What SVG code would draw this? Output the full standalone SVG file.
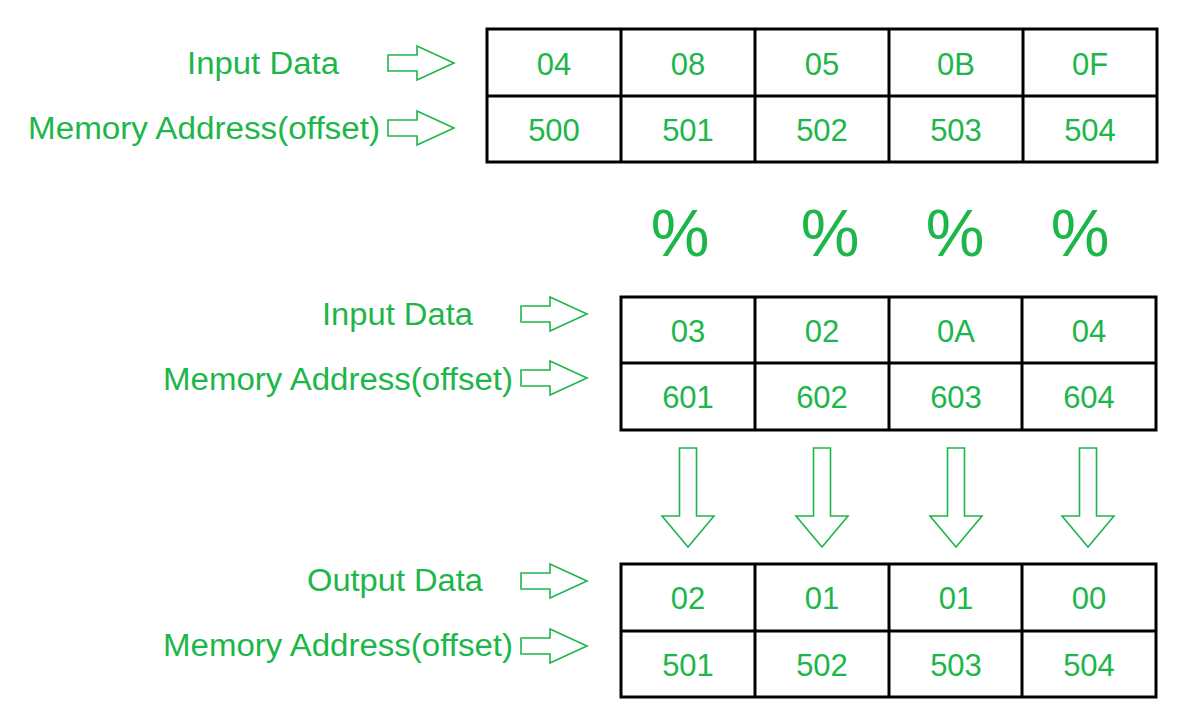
<svg xmlns="http://www.w3.org/2000/svg" width="1198" height="726" viewBox="0 0 1198 726">
<style>
.lbl{font-family:"Liberation Sans",Arial,sans-serif;font-size:31px;fill:#1db64a}
.cell{font-family:"Liberation Sans",Arial,sans-serif;font-size:31px;fill:#1db64a;text-anchor:middle}
.pct{font-family:"Liberation Sans",Arial,sans-serif;font-size:66px;fill:#1db64a;text-anchor:middle}
.grid{fill:none;stroke:#000;stroke-width:3}
.arr{fill:#fff;stroke:#1db64a;stroke-width:1.6;stroke-linejoin:miter}
</style>
<defs>
<path id="ra" d="M-66,-8 L-37,-8 L-37,-17 L0,0 L-37,17 L-37,8 L-66,8 Z"/>
<path id="da" d="M-8.5,-99 L8.5,-99 L8.5,-31 L26,-31 L0,0 L-26,-31 L-8.5,-31 Z"/>
</defs>
<rect width="1198" height="726" fill="#fff"/>

<g id="labels-top">
<text class="lbl" x="187" y="74" textLength="152" lengthAdjust="spacingAndGlyphs">Input Data</text>
<text class="lbl" x="28" y="139" textLength="352" lengthAdjust="spacingAndGlyphs">Memory Address(offset)</text>
</g>
<g id="table-top">
<rect class="grid" x="487" y="29" width="670" height="133"/>
<line class="grid" x1="487" y1="96" x2="1157" y2="96"/>
<line class="grid" x1="621" y1="29" x2="621" y2="162"/>
<line class="grid" x1="755" y1="29" x2="755" y2="162"/>
<line class="grid" x1="889" y1="29" x2="889" y2="162"/>
<line class="grid" x1="1023" y1="29" x2="1023" y2="162"/>
<text class="cell" x="554" y="75">04</text>
<text class="cell" x="688" y="75">08</text>
<text class="cell" x="822" y="75">05</text>
<text class="cell" x="956" y="75">0B</text>
<text class="cell" x="1090" y="75">0F</text>
<text class="cell" x="554" y="141">500</text>
<text class="cell" x="688" y="141">501</text>
<text class="cell" x="822" y="141">502</text>
<text class="cell" x="956" y="141">503</text>
<text class="cell" x="1090" y="141">504</text>
</g>

<g id="percent">
<text class="pct" x="680" y="256">%</text>
<text class="pct" x="830" y="256">%</text>
<text class="pct" x="955" y="256">%</text>
<text class="pct" x="1080" y="256">%</text>
</g>

<g id="labels-mid">
<text class="lbl" x="322" y="325" textLength="151" lengthAdjust="spacingAndGlyphs">Input Data</text>
<text class="lbl" x="163" y="390" textLength="350" lengthAdjust="spacingAndGlyphs">Memory Address(offset)</text>
</g>
<g id="table-mid">
<rect class="grid" x="621" y="297" width="535" height="133"/>
<line class="grid" x1="621" y1="363" x2="1156" y2="363"/>
<line class="grid" x1="755" y1="297" x2="755" y2="430"/>
<line class="grid" x1="889" y1="297" x2="889" y2="430"/>
<line class="grid" x1="1022" y1="297" x2="1022" y2="430"/>
<text class="cell" x="688" y="342">03</text>
<text class="cell" x="822" y="342">02</text>
<text class="cell" x="956" y="342">0A</text>
<text class="cell" x="1089" y="342">04</text>
<text class="cell" x="688" y="408">601</text>
<text class="cell" x="822" y="408">602</text>
<text class="cell" x="956" y="408">603</text>
<text class="cell" x="1089" y="408">604</text>
</g>

<g id="labels-bottom">
<text class="lbl" x="307" y="591" textLength="176" lengthAdjust="spacingAndGlyphs">Output Data</text>
<text class="lbl" x="163" y="656" textLength="350" lengthAdjust="spacingAndGlyphs">Memory Address(offset)</text>
</g>
<g id="table-bottom">
<rect class="grid" x="621" y="564" width="535" height="133"/>
<line class="grid" x1="621" y1="631" x2="1156" y2="631"/>
<line class="grid" x1="755" y1="564" x2="755" y2="697"/>
<line class="grid" x1="889" y1="564" x2="889" y2="697"/>
<line class="grid" x1="1022" y1="564" x2="1022" y2="697"/>
<text class="cell" x="688" y="609">02</text>
<text class="cell" x="822" y="609">01</text>
<text class="cell" x="956" y="609">01</text>
<text class="cell" x="1089" y="609">00</text>
<text class="cell" x="688" y="676">501</text>
<text class="cell" x="822" y="676">502</text>
<text class="cell" x="956" y="676">503</text>
<text class="cell" x="1089" y="676">504</text>
</g>

<g id="connectors">
<use href="#ra" class="arr" transform="translate(454,63)"/>
<use href="#ra" class="arr" transform="translate(454,128)"/>
<use href="#ra" class="arr" transform="translate(587,314)"/>
<use href="#ra" class="arr" transform="translate(587,378)"/>
<use href="#ra" class="arr" transform="translate(587,581)"/>
<use href="#ra" class="arr" transform="translate(587,646)"/>
<use href="#da" class="arr" transform="translate(688,547)"/>
<use href="#da" class="arr" transform="translate(822,547)"/>
<use href="#da" class="arr" transform="translate(956,547)"/>
<use href="#da" class="arr" transform="translate(1088,547)"/>
</g>
</svg>
